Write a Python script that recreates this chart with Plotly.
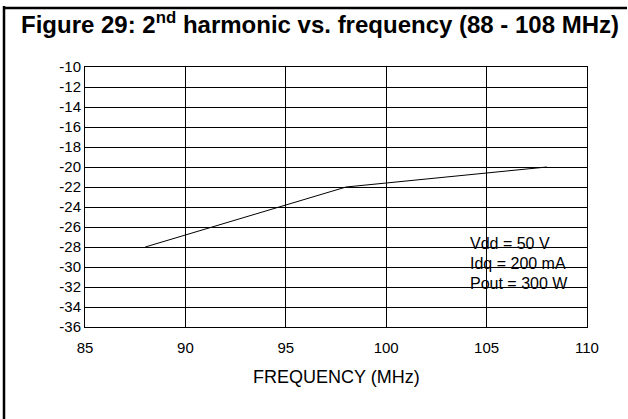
import plotly.graph_objects as go

freq_mhz = [88, 98, 108]
harmonic_db = [-28, -22, -20]
x_ticks = [85, 90, 95, 100, 105, 110]
y_ticks = [-10, -12, -14, -16, -18, -20, -22, -24, -26, -28, -30, -32, -34, -36]
y_tick_labels = [str(v) for v in y_ticks]
conditions = ["Vdd = 50 V", "Idq = 200 mA", "Pout = 300 W"]

W, H = 628, 419
L, R, T, B = 85, 41, 67, 92
pw, ph = W - L - R, H - T - B

def px(xp):
    return (xp - L) / pw

def py(yp):
    return (H - B - yp) / ph

fig = go.Figure()
fig.add_trace(go.Scatter(x=freq_mhz, y=harmonic_db, mode="lines",
                         line=dict(color="black", width=1), showlegend=False,
                         hoverinfo="skip"))

font = "Liberation Sans, Arial, sans-serif"
fig.update_layout(
    width=W, height=H,
    margin=dict(l=L, r=R, t=T, b=B, autoexpand=False),
    paper_bgcolor="white", plot_bgcolor="white",
    font=dict(family=font, color="black", size=15),
    xaxis=dict(range=[85, 110], tickvals=x_ticks, showgrid=True, gridcolor="black",
               gridwidth=1, showline=True, linecolor="black", linewidth=1, mirror=True,
               zeroline=False, ticks="outside", ticklen=7, tickcolor="rgba(0,0,0,0)",
               tickfont=dict(size=15)),
    yaxis=dict(range=[-36, -10], tickvals=y_ticks, ticktext=y_tick_labels,
               showgrid=True, gridcolor="black",
               gridwidth=1, showline=True, linecolor="black", linewidth=1, mirror=True,
               zeroline=False, ticks="", tickfont=dict(size=15)),
)

fig.add_annotation(text="<b>Figure 29: 2<sup>nd</sup> harmonic vs. frequency (88 - 108 MHz)</b>",
                   xref="paper", yref="paper", x=px(19), y=py(23),
                   xanchor="left", yanchor="middle", showarrow=False,
                   font=dict(size=24, family=font, color="black"))

fig.add_annotation(text="FREQUENCY (MHz)", xref="paper", yref="paper",
                   x=0.5, y=py(377), xanchor="center", yanchor="middle",
                   showarrow=False, font=dict(size=18, family=font, color="black"))

for i, t in enumerate(conditions):
    fig.add_annotation(text=t, xref="paper", yref="paper", x=px(468), y=py(243 + i * 20),
                       xanchor="left", yanchor="middle", showarrow=False,
                       font=dict(size=16, family=font, color="black"))

fig.add_shape(type="line", xref="paper", yref="paper", x0=px(4), x1=px(4),
              y0=py(H + 2), y1=py(6), line=dict(color="black", width=2.5), layer="above")
fig.add_shape(type="line", xref="paper", yref="paper", x0=px(3), x1=px(W - 1),
              y0=py(8), y1=py(8), line=dict(color="black", width=2.5), layer="above")

fig.write_html("out.html", config={"displayModeBar": False},
               post_script="document.body.style.margin='0';document.body.style.padding='0';")
